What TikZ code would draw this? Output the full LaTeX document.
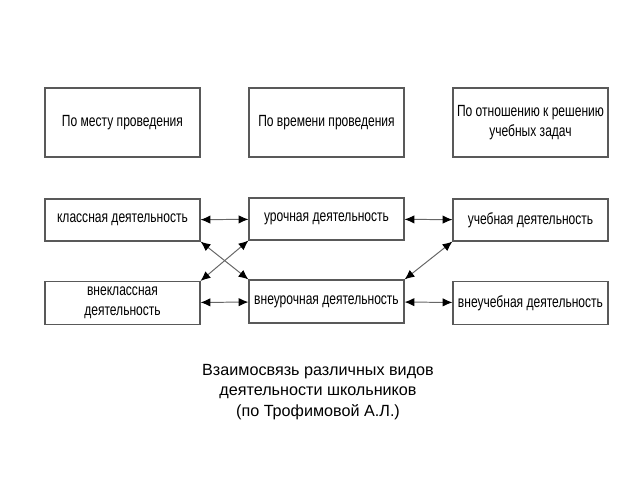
\documentclass[tikz,border=0pt]{standalone}
\usepackage{fontspec}
\setmainfont{Liberation Sans}
\newfontfamily\narrowfont[FakeStretch=0.745]{Liberation Sans}
\usetikzlibrary{arrows.meta}
\tikzset{
  box/.style={draw=black!65, line width=0.75pt, fill=white, align=center,
    inner sep=1pt, minimum width=3.875cm,
    font=\narrowfont\fontsize{11.5}{14.5}\selectfont},
  link/.style={{Latex[length=7pt,width=6pt,black]}-{Latex[length=7pt,width=6pt,black]},
    draw=black!60, line width=0.7pt}
}
\begin{document}
\begin{tikzpicture}[x=0.025cm, y=-0.025cm]
        \useasboundingbox (0,0) rectangle (640,480);
        % criteria
        \node[box, minimum height=1.725cm] (mesto) at (122.5, 122.5) {По месту проведения};
        \node[box, minimum height=1.725cm] (vremya) at (326.5, 122.5) {По времени проведения};
        \node[box, minimum height=1.725cm] (otnosh) at (530.5, 122.5) {По отношению к решению\\учебных задач};
        % kinds of activity
        \node[box, minimum height=1.05cm] (kl) at (122.5, 220) {классная деятельность};
        \node[box, minimum height=1.05cm] (ur) at (326.5, 219) {урочная деятельность};
        \node[box, minimum height=1.05cm] (uch) at (530.5, 220) {учебная деятельность};
        \node[box, minimum height=1.075cm] (vkl) at (122.5, 303) {внеклассная\\деятельность};
        \node[box, minimum height=1.075cm] (vur) at (326.5, 301.5) {внеурочная деятельность};
        \node[box, minimum height=1.075cm] (vuch) at (530.5, 303) {внеучебная деятельность};
        \draw[link] (kl) -- (ur);
        \draw[link] (ur) -- (uch);
        \draw[link] (vkl) -- (vur);
        \draw[link] (vur) -- (vuch);
        \draw[link] (kl.south east) -- (vur.north west);
        \draw[link] (vkl.north east) -- (ur.south west);
        \draw[link] (uch.south west) -- (vur.north east);
        % caption
        \node[align=center, font=\fontsize{11.5}{14.4}\selectfont] (title) at (318, 392) {Взаимосвязь различных видов\\деятельности школьников\\(по Трофимовой А.Л.)};
\end{tikzpicture}
\end{document}
